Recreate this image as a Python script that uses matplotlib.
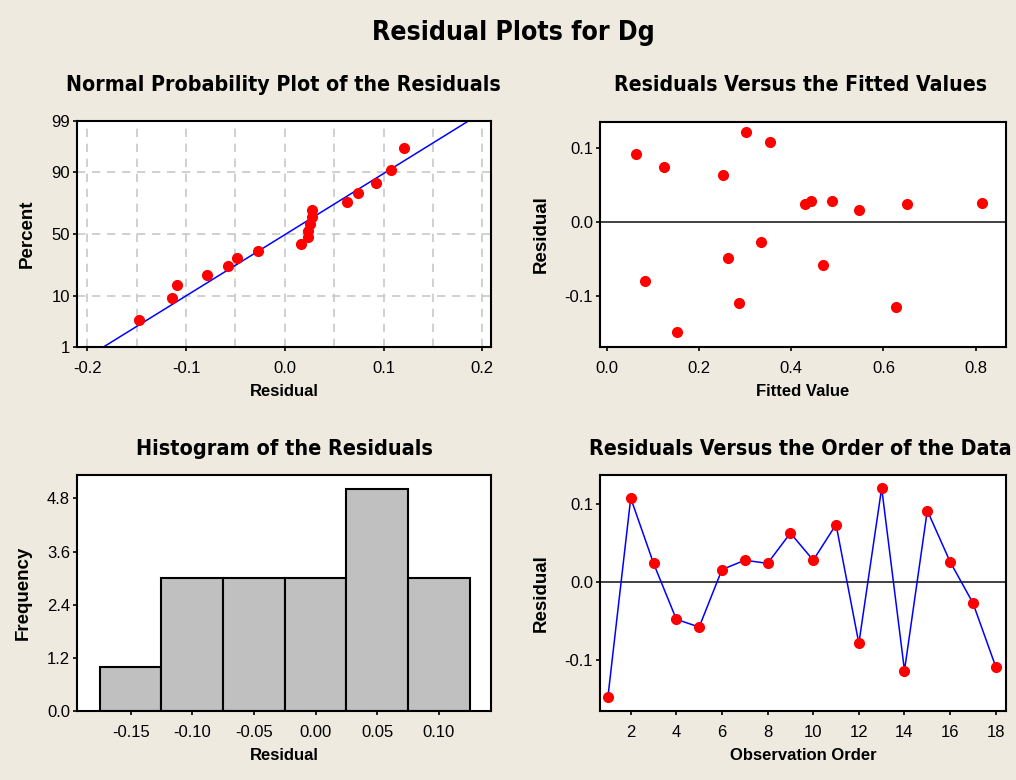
import numpy as np
import matplotlib
matplotlib.use('Agg')
import matplotlib.pyplot as plt
from statistics import NormalDist

# residuals in observation order
residuals = [-0.148, 0.108, 0.024, -0.048, -0.058, 0.016, 0.028, 0.024, 0.063,
             0.028, 0.074, -0.079, 0.121, -0.114, 0.092, 0.026, -0.027, -0.109]
fitted = [0.152, 0.353, 0.430, 0.264, 0.469, 0.547, 0.443, 0.651, 0.253,
          0.488, 0.125, 0.082, 0.303, 0.628, 0.063, 0.813, 0.334, 0.287]
# histogram
hist_centers = [-0.15, -0.10, -0.05, 0.00, 0.05, 0.10]
hist_counts = [1, 3, 3, 3, 5, 3]
# probability axis ticks
pct_ticks = [1, 10, 50, 90, 99]

BG = '#EEEAE0'
plt.rcParams['font.family'] = ['Liberation Sans', 'DejaVu Sans']
plt.rcParams['axes.linewidth'] = 1.5

W, H = 1016, 780
fig = plt.figure(figsize=(W / 100, H / 100), dpi=100, facecolor=BG)


def px_axes(left, top, right, bottom):
    return fig.add_axes([left / W, 1 - bottom / H, (right - left) / W, (bottom - top) / H])


def style(ax):
    ax.tick_params(direction='out', length=3, width=1.2, labelsize=12, pad=2)
    ax.tick_params(axis='x', pad=7)
    for s in ax.spines.values():
        s.set_linewidth(1.5)


titles = []


def ptext(x, y, s, size, width):
    t = fig.text(x / W, 1 - y / H, s, ha='center', va='center', fontsize=size,
                 family='DejaVu Sans', fontstretch='condensed', fontweight='bold')
    titles.append((t, width))


def label_axes(ax, xl, yl):
    ax.set_xlabel(xl, fontsize=12, fontweight='bold', labelpad=6)
    ax.set_ylabel(yl, fontsize=13.5, fontweight='bold', labelpad=11)


nd = NormalDist()
res = np.array(residuals)
n = len(res)

# --- normal probability plot
ax1 = px_axes(77, 121, 491, 347)
srt = np.sort(res)
ranks = (np.arange(1, n + 1) - 0.3) / (n + 0.4)
z = np.array([nd.inv_cdf(p) for p in ranks])
mu, sd = res.mean(), res.std(ddof=1)
zlo, zhi = nd.inv_cdf(0.01), nd.inv_cdf(0.99)
for gx in np.arange(-0.2, 0.201, 0.05):
    ax1.axvline(gx, color='#C8C8C8', lw=1.2, ls=(0, (5, 4)), zorder=0)
for p in [10, 50, 90]:
    ax1.axhline(nd.inv_cdf(p / 100), color='#C8C8C8', lw=1.2, ls=(0, (5, 4)), zorder=0)
ax1.plot([mu + sd * zlo, mu + sd * zhi], [zlo, zhi], color='blue', lw=1.1, zorder=2)
ax1.plot(srt, z, 'o', color='red', ms=7, zorder=3)
ax1.set_xlim(-0.2104, 0.2088)
ax1.set_ylim(zlo, zhi)
ax1.set_yticks([nd.inv_cdf(p / 100) for p in pct_ticks])
ax1.set_yticklabels([str(p) for p in pct_ticks])
ax1.set_xticks([-0.2, -0.1, 0.0, 0.1, 0.2])
ax1.set_xticklabels(['-0.2', '-0.1', '0.0', '0.1', '0.2'])
style(ax1)
label_axes(ax1, 'Residual', 'Percent')

# --- residuals vs fitted
ax2 = px_axes(600, 122, 1006, 347)
ax2.axhline(0, color='#333333', lw=1.3, zorder=1)
ax2.plot(fitted, residuals, 'o', color='red', ms=7, zorder=3)
ax2.set_xlim(-0.0145, 0.8657)
ax2.set_ylim(-0.1682, 0.1346)
ax2.set_xticks([0.0, 0.2, 0.4, 0.6, 0.8])
ax2.set_xticklabels(['0.0', '0.2', '0.4', '0.6', '0.8'])
ax2.set_yticks([-0.1, 0.0, 0.1])
ax2.set_yticklabels(['-0.1', '0.0', '0.1'])
style(ax2)
label_axes(ax2, 'Fitted Value', 'Residual')

# --- histogram
ax3 = px_axes(77, 475, 491, 711)
ax3.bar(hist_centers, hist_counts, width=0.05, color='#C0C0C0', edgecolor='black', lw=1.5)
ax3.set_xlim(-0.1935, 0.1422)
ax3.set_ylim(0, 5.327)
ax3.set_xticks(hist_centers)
ax3.set_xticklabels(['%.2f' % c for c in hist_centers])
ax3.set_yticks([0.0, 1.2, 2.4, 3.6, 4.8])
ax3.set_yticklabels(['0.0', '1.2', '2.4', '3.6', '4.8'])
style(ax3)
label_axes(ax3, 'Residual', 'Frequency')

# --- residuals vs order
ax4 = px_axes(600, 475, 1006, 711)
order = np.arange(1, n + 1)
ax4.axhline(0, color='#333333', lw=1.3, zorder=1)
ax4.plot(order, residuals, '-', color='blue', lw=1.1, zorder=2)
ax4.plot(order, residuals, 'o', color='red', ms=7, zorder=3)
ax4.set_xlim(0.653, 18.45)
ax4.set_ylim(-0.166, 0.1377)
ax4.set_xticks(range(2, 19, 2))
ax4.set_yticks([-0.1, 0.0, 0.1])
ax4.set_yticklabels(['-0.1', '0.0', '0.1'])
style(ax4)
label_axes(ax4, 'Observation Order', 'Residual')

ptext(513, 33, 'Residual Plots for Dg', 20, 283)
ptext(283, 85, 'Normal Probability Plot of the Residuals', 16, 435)
ptext(800, 85, 'Residuals Versus the Fitted Values', 16, 373)
ptext(284, 449, 'Histogram of the Residuals', 16, 297)
ptext(800, 449, 'Residuals Versus the Order of the Data', 16, 424)

# squeeze the titles to the widths seen in the reference
r = fig.canvas.get_renderer()
for t, w in titles:
    cur = t.get_window_extent(renderer=r).width
    t.set_fontsize(t.get_fontsize() * w / cur)

fig.savefig('out.png', dpi=100, facecolor=BG)
